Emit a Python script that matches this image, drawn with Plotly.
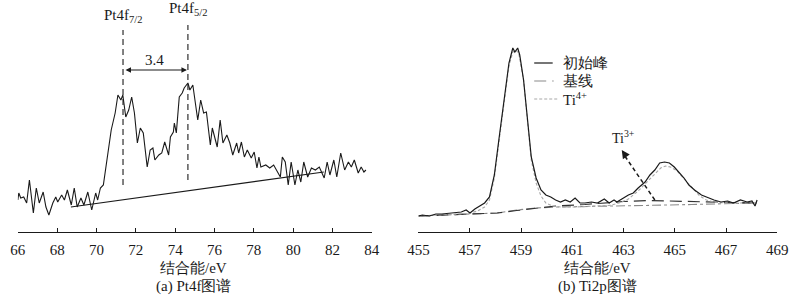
import plotly.graph_objects as go

# ---------------- Panel (a) Pt4f ----------------
pt_energy = [66.00, 66.05, 66.15, 66.30, 66.45, 66.59, 66.79, 66.94, 67.09, 67.29, 67.43, 67.58,
             67.78, 67.93, 68.03, 68.23, 68.37, 68.52, 68.72, 68.87, 69.02, 69.21, 69.36, 69.56,
             69.76, 69.96, 70.06, 70.20, 70.35, 70.50, 70.60, 70.75, 70.95, 71.09, 71.24, 71.34,
             71.49, 71.64, 71.79, 71.93, 72.08, 72.23, 72.38, 72.58, 72.73, 72.87, 72.97, 73.17,
             73.32, 73.47, 73.67, 73.76, 73.91, 73.96, 74.06, 74.21, 74.36, 74.46, 74.65, 74.75,
             74.90, 75.05, 75.15, 75.30, 75.45, 75.59, 75.79, 75.89, 76.14, 76.29, 76.43, 76.63,
             76.78, 76.93, 77.13, 77.23, 77.37, 77.52, 77.67, 77.87, 78.02, 78.16, 78.26, 78.36,
             78.61, 78.81, 79.01, 79.15, 79.35, 79.45, 79.60, 79.75, 79.90, 80.09, 80.24, 80.39,
             80.54, 80.74, 80.93, 81.13, 81.33, 81.58, 81.73, 81.87, 82.07, 82.22, 82.42, 82.62,
             82.81, 82.96, 83.11, 83.31, 83.46, 83.60, 83.70]
pt_intensity = [32, 39, 34, 35, 29, 52, 19, 44, 29, 40, 25, 17,
                29, 35, 30, 37, 32, 42, 27, 44, 25, 34, 27, 40,
                22, 39, 32, 44, 47, 69, 85, 102, 119, 137, 132, 137,
                115, 122, 135, 119, 89, 104, 99, 65, 82, 84, 72, 77,
                79, 90, 77, 95, 100, 109, 99, 135, 139, 144, 149, 142,
                147, 125, 112, 132, 119, 120, 87, 104, 85, 112, 89, 97,
                89, 77, 89, 79, 90, 75, 82, 74, 80, 64, 75, 65,
                67, 64, 67, 62, 55, 75, 70, 47, 70, 47, 62, 50,
                70, 55, 64, 62, 65, 54, 70, 57, 72, 55, 79, 62,
                70, 65, 72, 59, 65, 60, 62]
pt_base_energy = [68.70, 81.56]
pt_base_intensity = [25, 60]
pt_peak_pos = [71.35, 74.65]
pt_peak_low = [47, 52]
pt_peak_high = [202, 207]
pt_peak_labels = ["Pt4f<sub>7/2</sub>", "Pt4f<sub>5/2</sub>"]
pt_label_y = [216, 223]
pt_split_label = "3.4"
pt_ticks = [66, 68, 70, 72, 74, 76, 78, 80, 82, 84]

# ---------------- Panel (b) Ti2p ----------------
ti_energy = [455.00, 455.15, 455.42, 455.68, 455.91, 456.29, 456.67, 456.86, 457.01, 457.20,
             457.39, 457.58, 457.77, 457.96, 458.15, 458.34, 458.53, 458.68, 458.76, 458.87,
             458.95, 459.10, 459.25, 459.40, 459.59, 459.78, 459.97, 460.16, 460.35, 460.54,
             460.73, 460.92, 461.11, 461.30, 461.49, 461.75, 461.98, 462.25, 462.44, 462.63,
             462.74, 463.00, 463.19, 463.38, 463.57, 463.84, 464.03, 464.22, 464.41, 464.60,
             464.79, 464.98, 465.17, 465.36, 465.55, 465.77, 466.04, 466.31, 466.53, 466.80,
             467.06, 467.29, 467.56, 467.82, 468.01, 468.13, 468.21]
ti_raw = [16, 17, 16, 18, 18, 19, 20, 22, 19, 23,
          26, 29, 35, 57, 95, 135, 169, 184, 180, 184,
          177, 152, 112, 75, 54, 42, 37, 35, 32, 30,
          32, 30, 34, 29, 29, 30, 29, 33, 29, 32,
          30, 34, 37, 39, 44, 50, 57, 62, 69, 70,
          69, 65, 60, 54, 47, 42, 37, 34, 32, 30,
          31, 29, 32, 30, 31, 26, 32]

ti_base_energy = [455.00, 457.20, 458.07, 458.83, 459.59, 460.35, 461.87, 463.76, 465.66, 468.20]
ti_base = [16, 18, 19, 22, 24, 25, 25.5, 26.5, 27.5, 29]

ti3_energy = [455.00, 456.93, 458.07, 458.83, 459.59, 460.35, 461.49, 462.25, 463.00, 464.03,
              465.28, 466.53, 467.18, 468.20]
ti3 = [16, 18, 19, 21.5, 24, 26, 27.5, 29, 30.5, 31.5, 31, 30, 29.5, 29]

ti4_energy = [455.00, 456.93, 457.31, 457.58, 457.77, 457.96, 458.15, 458.34, 458.53, 458.68,
              458.79, 458.91, 459.10, 459.25, 459.40, 459.59, 459.78, 459.97, 460.24, 460.54,
              461.11, 461.87, 462.44, 462.82, 463.19, 463.57, 463.95, 464.22, 464.45, 464.64,
              464.83, 465.09, 465.40, 465.66, 465.97, 466.23, 466.61, 467.18, 468.20]
ti4 = [16, 18.5, 21, 25, 32, 54, 92, 132, 166, 180,
       182, 179, 152, 112, 72, 49, 36, 29, 26, 25,
       25, 26, 26.5, 29, 33, 41, 51, 59, 64, 66,
       65, 61, 52, 44, 36, 32, 29.5, 29, 29]
ti_ticks = [455, 457, 459, 461, 463, 465, 467, 469]
ti3_arrow_tail = [464.22, 32]
ti3_arrow_head = [462.93, 82]
ti3_label_pos = [463.0, 95]
legend_names = ["初始峰", "基线", "Ti<sup>4+</sup>"]

FONT = "Liberation Serif"
BLACK = "#1a1a1a"

fig = go.Figure()

# Panel a traces
fig.add_trace(go.Scatter(x=pt_energy, y=pt_intensity, mode="lines",
                         line=dict(color=BLACK, width=1.1), xaxis="x", yaxis="y", showlegend=False))
fig.add_trace(go.Scatter(x=pt_base_energy, y=pt_base_intensity, mode="lines",
                         line=dict(color=BLACK, width=1.1), xaxis="x", yaxis="y", showlegend=False))

# Panel b traces
fig.add_trace(go.Scatter(x=ti_base_energy, y=ti_base, mode="lines",
                         line=dict(color="#8a8a8a", width=1.1, dash="dashdot"),
                         xaxis="x2", yaxis="y2", showlegend=False))
fig.add_trace(go.Scatter(x=ti3_energy, y=ti3, mode="lines",
                         line=dict(color="#333333", width=1.2, dash="12px,6px"),
                         xaxis="x2", yaxis="y2", showlegend=False))
fig.add_trace(go.Scatter(x=ti4_energy, y=ti4, mode="lines",
                         line=dict(color="#a8a8a8", width=1.1, dash="3px,2px"),
                         xaxis="x2", yaxis="y2", showlegend=False))
fig.add_trace(go.Scatter(x=ti_energy, y=ti_raw, mode="lines",
                         line=dict(color=BLACK, width=1.2),
                         xaxis="x2", yaxis="y2", showlegend=False))

shapes = []
annotations = []

# Dashed peak markers in (a)
for xp, lo, hi, lab, ly in zip(pt_peak_pos, pt_peak_low, pt_peak_high, pt_peak_labels, pt_label_y):
    shapes.append(dict(type="line", xref="x", yref="y", x0=xp, x1=xp, y0=lo, y1=hi,
                       line=dict(color=BLACK, width=1.1, dash="6px,4px")))
    annotations.append(dict(xref="x", yref="y", x=xp, y=ly, text=lab, showarrow=False,
                            font=dict(family=FONT, size=15, color=BLACK),
                            xanchor="center", yanchor="middle"))

# Double-headed arrow for splitting
annotations.append(dict(xref="x", yref="y", x=pt_peak_pos[1] - 0.05, y=162,
                        ax=pt_peak_pos[0] + 0.05, ay=162, axref="x", ayref="y",
                        showarrow=True, arrowhead=2, startarrowhead=2, arrowside="end+start",
                        arrowsize=1, arrowwidth=1.1, arrowcolor=BLACK, text=""))
annotations.append(dict(xref="x", yref="y", x=(pt_peak_pos[0] + pt_peak_pos[1]) / 2 - 0.05, y=172,
                        text=pt_split_label, showarrow=False,
                        font=dict(family=FONT, size=15, color=BLACK)))

# Ti3+ dashed arrow
shapes.append(dict(type="line", xref="x2", yref="y2",
                   x0=ti3_arrow_tail[0], y0=ti3_arrow_tail[1],
                   x1=ti3_arrow_head[0] + 0.12, y1=ti3_arrow_head[1] - 6,
                   line=dict(color=BLACK, width=1.5, dash="4px,3px")))
annotations.append(dict(xref="x2", yref="y2", x=ti3_arrow_head[0], y=ti3_arrow_head[1],
                        ax=4, ay=6, showarrow=True, arrowhead=2, arrowsize=1.1,
                        arrowwidth=1.5, arrowcolor=BLACK, text=""))
annotations.append(dict(xref="x2", yref="y2", x=ti3_label_pos[0], y=ti3_label_pos[1],
                        text="Ti<sup>3+</sup>", showarrow=False,
                        font=dict(family=FONT, size=14, color=BLACK)))

# Manual legend for (b)
H = 232.0
legend_styles = [dict(color=BLACK, width=1.2, dash="solid"),
                 dict(color="#8a8a8a", width=1.1, dash="12px,6px,2px,6px"),
                 dict(color="#a8a8a8", width=1.1, dash="3px,2px")]
legend_rows = [63, 81, 99]
legend_x1 = [557, 558, 563]
for name, st, row, x1 in zip(legend_names, legend_styles, legend_rows, legend_x1):
    yp = (H - row) / H
    shapes.append(dict(type="line", xref="paper", yref="paper", x0=538 / 800, x1=x1 / 800,
                       y0=yp, y1=yp, line=st))
    annotations.append(dict(xref="paper", yref="paper", x=566 / 800, y=yp, text=name,
                            showarrow=False, xanchor="left", yanchor="middle",
                            font=dict(family=FONT, size=15, color=BLACK)))

# Axis titles and captions
for cx, cap in [(188, "(a) Pt4f图谱"), (603, "(b) Ti2p图谱")]:
    annotations.append(dict(xref="paper", yref="paper", x=cx / 800, y=(H - 268) / H,
                            text="结合能/eV", showarrow=False, xanchor="center", yanchor="middle",
                            font=dict(family=FONT, size=15, color=BLACK)))
    annotations.append(dict(xref="paper", yref="paper", x=cx / 800, y=(H - 286) / H,
                            text=cap, showarrow=False, xanchor="center", yanchor="middle",
                            font=dict(family=FONT, size=15, color=BLACK)))

xaxis_common = dict(showline=True, linecolor=BLACK, linewidth=1, ticks="inside", ticklen=4,
                    tickwidth=1, tickcolor=BLACK, showgrid=False, zeroline=False,
                    ticklabelstandoff=4,
                    tickfont=dict(family=FONT, size=15, color=BLACK))

fig.update_layout(
    width=800, height=303,
    margin=dict(l=0, r=0, t=0, b=71),
    paper_bgcolor="white", plot_bgcolor="white",
    showlegend=False,
    font=dict(family=FONT, size=15, color=BLACK),
    xaxis=dict(domain=[7 / 800, 371 / 800], range=[66, 84], tickvals=pt_ticks,
               anchor="y", **xaxis_common),
    yaxis=dict(domain=[0, 1], range=[0, H], visible=False),
    xaxis2=dict(domain=[419 / 800, 788 / 800], range=[455, 469], tickvals=ti_ticks,
                anchor="y2", **xaxis_common),
    yaxis2=dict(domain=[0, 1], range=[0, H], visible=False, anchor="x2"),
    shapes=shapes,
    annotations=annotations,
)

fig.write_html("out.html")
